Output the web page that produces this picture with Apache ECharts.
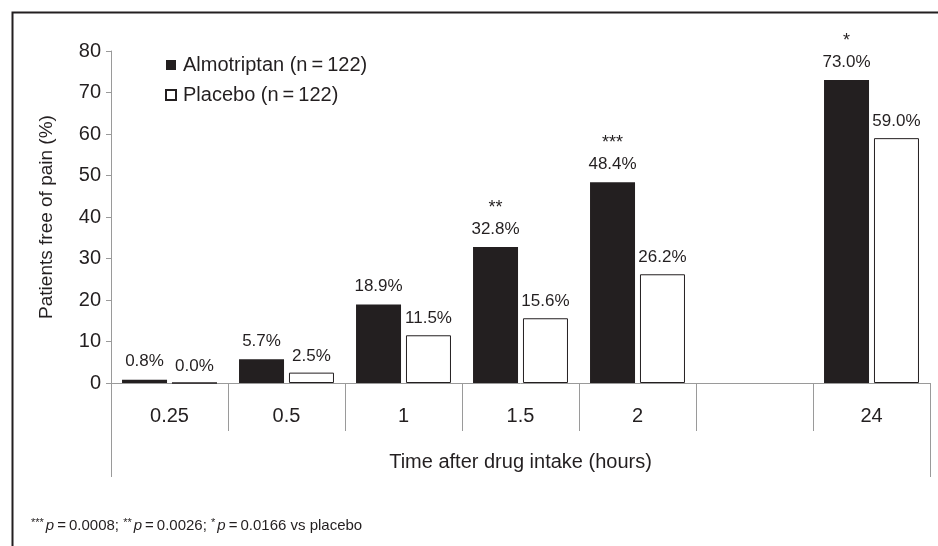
<!DOCTYPE html>
<html>
<head>
<meta charset="utf-8">
<script src="https://cdn.jsdelivr.net/npm/echarts@6/dist/echarts.min.js"></script>
<style>html,body{margin:0;padding:0;background:#fff;}#c{width:938px;height:546px;}</style>
</head>
<body>
<div id="c"></div>
<script>
var categories = ['0.25', '0.5', '1', '1.5', '2', '', '24'];
var almotriptan = [0.8, 5.7, 18.9, 32.8, 48.4, null, 73.0];
var placebo = [0.0, 2.5, 11.5, 15.6, 26.2, null, 59.0];
var stars = ['', '', '', '**', '***', '', '*'];
var yTicks = [0, 10, 20, 30, 40, 50, 60, 70, 80];
var seriesNames = ['Almotriptan (n\u2009=\u2009122)', 'Placebo (n\u2009=\u2009122)'];

var ink = '#231f20';
var grey = '#9a9a9a';
var font = 'Liberation Sans, Arial, sans-serif';

var chart = echarts.init(document.getElementById('c'), null, {renderer: 'canvas'});
chart.setOption({
  animation: false,
  backgroundColor: '#fff',
  textStyle: {fontFamily: font, color: ink},
  grid: {left: 111, right: 8, top: 51, bottom: 163, containLabel: false},
  title: {
    left: 26, top: 512,
    text: '{s|***}{i|p}{n|\u2009=\u20090.0008; }{s|**}{i|p}{n|\u2009=\u20090.0026; }{s|*}{i|p}{n|\u2009=\u20090.0166 vs placebo}',
    textStyle: {
      fontWeight: 'normal',
      rich: {
        s: {fontSize: 11, fontFamily: font, fontWeight: 'normal', color: ink, verticalAlign: 'top', padding: [0, 2, 6, 0]},
        i: {fontSize: 15, fontFamily: font, fontWeight: 'normal', fontStyle: 'italic', color: ink},
        n: {fontSize: 15, fontFamily: font, fontWeight: 'normal', color: ink}
      }
    }
  },
  legend: {
    orient: 'vertical', left: 160, top: 50, itemGap: 10,
    itemWidth: 10, itemHeight: 10, icon: 'rect',
    textStyle: {fontSize: 20, fontFamily: font, color: ink, padding: [0, 0, 0, 2]},
    data: seriesNames
  },
  xAxis: [{
    type: 'category', data: categories, position: 'bottom',
    axisLine: {show: true, lineStyle: {color: grey, width: 1}},
    axisTick: {show: true, alignWithLabel: false, interval: 0, inside: false, length: 48, lineStyle: {color: grey, width: 1}},
    axisLabel: {show: true, interval: 0, margin: 23, fontSize: 20, fontFamily: font, color: ink},
    name: 'Time after drug intake (hours)', nameLocation: 'middle', nameGap: 69,
    nameTextStyle: {fontSize: 20, fontFamily: font, color: ink},
    splitLine: {show: false}
  }, {
    type: 'category', data: [''], position: 'bottom',
    axisLine: {show: false},
    axisTick: {show: true, alignWithLabel: false, length: 94, lineStyle: {color: grey, width: 1}},
    axisLabel: {show: false},
    splitLine: {show: false}
  }],
  yAxis: {
    type: 'value', min: yTicks[0], max: yTicks[yTicks.length - 1], interval: 10,
    axisLine: {show: true, lineStyle: {color: grey, width: 1}},
    axisTick: {show: true, length: 5, lineStyle: {color: grey, width: 1}},
    axisLabel: {fontSize: 20, fontFamily: font, color: ink, margin: 10},
    splitLine: {show: false},
    name: 'Patients free of pain (%)', nameLocation: 'middle', nameGap: 55,
    nameTextStyle: {fontSize: 19, fontFamily: font, color: ink}
  },
  series: [{
    name: seriesNames[0], type: 'bar', xAxisIndex: 0,
    data: almotriptan,
    barWidth: 45, barGap: '11%',
    itemStyle: {color: ink, borderColor: ink, borderWidth: 0},
    label: {
      show: true, position: 'top', distance: 8,
      formatter: function (p) {
        var s = stars[p.dataIndex];
        var v = '{v|' + p.value.toFixed(1) + '%}';
        return s ? '{s|' + s + '}\n' + v : v;
      },
      rich: {
        s: {fontSize: 18, fontFamily: font, color: ink, lineHeight: 22, align: 'center'},
        v: {fontSize: 17, fontFamily: font, color: ink, lineHeight: 20, align: 'center'}
      }
    }
  }, {
    name: seriesNames[1], type: 'bar', xAxisIndex: 0,
    data: placebo,
    barWidth: 45, barGap: '11%',
    itemStyle: {color: '#ffffff', borderColor: ink, borderWidth: 1},
    label: {
      show: true, position: 'top', distance: 8,
      formatter: function (p) { return p.value.toFixed(1) + '%'; },
      fontSize: 17, fontFamily: font, color: ink
    }
  }],
  graphic: [{
    type: 'rect', left: 10, top: 10, silent: true,
    shape: {width: 940, height: 560},
    style: {fill: 'none', stroke: ink, lineWidth: 2}
  }]
});
</script>
</body>
</html>
